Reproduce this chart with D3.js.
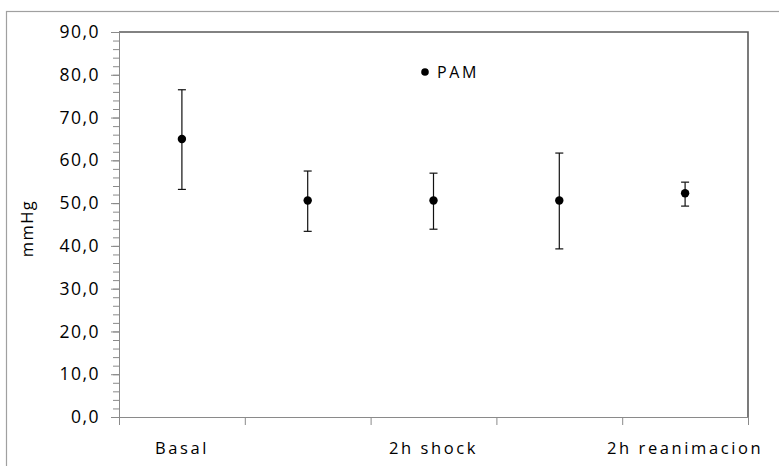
<!DOCTYPE html>
<html><head><meta charset="utf-8">
<script src="https://cdn.jsdelivr.net/npm/d3@7"></script>
<style>body{margin:0;background:#fff}svg{display:block}</style>
</head><body>
<svg id="c" width="779" height="466"></svg>
<script>
const categories = ["Basal", "", "2h shock", "", "2h reanimacion"];
const means = [65.0, 50.6, 50.6, 50.6, 52.3];
const upper = [76.5, 57.5, 57.0, 61.7, 54.9];
const lower = [53.2, 43.4, 43.9, 39.3, 49.3];
const seriesName = "PAM";
const yMajorTicks = [0, 10, 20, 30, 40, 50, 60, 70, 80, 90];
const yMinorTicks = d3.range(0, 91, 2);

const svg = d3.select("#c");
const m = {l: 119, r: 748, t: 32, b: 417};

// outer chart border
svg.append("rect").attr("x", 6.5).attr("y", 11.5).attr("width", 800).attr("height", 500)
  .attr("fill", "none").attr("stroke", "#a0a0a0").attr("stroke-width", 1.2);

const x = d3.scaleBand().domain(d3.range(categories.length)).range([m.l, m.r]).padding(0);
const y = d3.scaleLinear().domain([0, 90]).range([m.b, m.t]);

// plot border top & right
svg.append("path").attr("d", `M${m.l},${m.t}H${m.r}V${m.b}`)
  .attr("fill", "none").attr("stroke", "#5a5a5a").attr("stroke-width", 1.6);

const font = "'Open Sans', 'Noto Sans', sans-serif";

// minor y ticks
svg.append("g").attr("transform", `translate(${m.l},0)`)
  .call(d3.axisLeft(y).tickValues(yMinorTicks).tickSize(6).tickFormat(""))
  .call(g => g.select(".domain").remove())
  .selectAll("line").attr("stroke", "#8a8a8a");

// major y axis
const fmt = d => d3.format(".1f")(d).replace(".", ",");
const ya = svg.append("g").attr("transform", `translate(${m.l},0)`)
  .call(d3.axisLeft(y).tickValues(yMajorTicks).tickSize(8).tickPadding(11).tickFormat(fmt));
ya.select(".domain").attr("stroke", "#8a8a8a").attr("d", `M0.5,${m.t}V${m.b}`);
ya.selectAll("line").attr("stroke", "#8a8a8a");
ya.selectAll("text").attr("font-family", font).attr("font-size", 17.5).attr("letter-spacing", 1.5).attr("fill", "#000");

// x axis
const xa = svg.append("g").attr("transform", `translate(0,${m.b})`)
  .call(d3.axisBottom(x).tickSize(0).tickPadding(25).tickFormat(i => categories[i]));
xa.select(".domain").attr("stroke", "#8a8a8a").attr("d", `M${m.l},0.5H${m.r}`);
xa.selectAll("text").attr("font-family", font).attr("font-size", 16.5).attr("letter-spacing", 2.6).attr("fill", "#000");
// x tick marks at category boundaries
const bounds = d3.range(categories.length + 1).map(i => m.l + i * x.bandwidth());
svg.append("g").selectAll("line").data(bounds).join("line")
  .attr("x1", d => d + 0.5).attr("x2", d => d + 0.5).attr("y1", m.b).attr("y2", m.b + 8)
  .attr("stroke", "#8a8a8a");

// y label
svg.append("text").attr("transform", `translate(33,${(m.t + m.b) / 2 + 4}) rotate(-90)`)
  .attr("text-anchor", "middle").attr("font-family", font).attr("font-size", 16.5)
  .attr("letter-spacing", 1.5).attr("fill", "#000").text("mmHg");

// error bars
const cx = i => x(i) + x.bandwidth() / 2;
const eb = svg.append("g").attr("stroke", "#111").attr("stroke-width", 1.2);
means.forEach((v, i) => {
  const c = cx(i);
  eb.append("line").attr("x1", c).attr("x2", c).attr("y1", y(upper[i])).attr("y2", y(lower[i]));
  eb.append("line").attr("x1", c - 4).attr("x2", c + 4).attr("y1", y(upper[i])).attr("y2", y(upper[i]));
  eb.append("line").attr("x1", c - 4).attr("x2", c + 4).attr("y1", y(lower[i])).attr("y2", y(lower[i]));
});
svg.append("g").selectAll("circle").data(means).join("circle")
  .attr("cx", (d, i) => cx(i)).attr("cy", d => y(d)).attr("r", 4.2).attr("fill", "#000");

// legend
svg.append("circle").attr("cx", 425).attr("cy", 72).attr("r", 3.8).attr("fill", "#000");
svg.append("text").attr("x", 437).attr("y", 78).attr("font-family", font).attr("font-size", 16)
  .attr("letter-spacing", 2.6).attr("fill", "#000").text(seriesName);
</script>
</body></html>
